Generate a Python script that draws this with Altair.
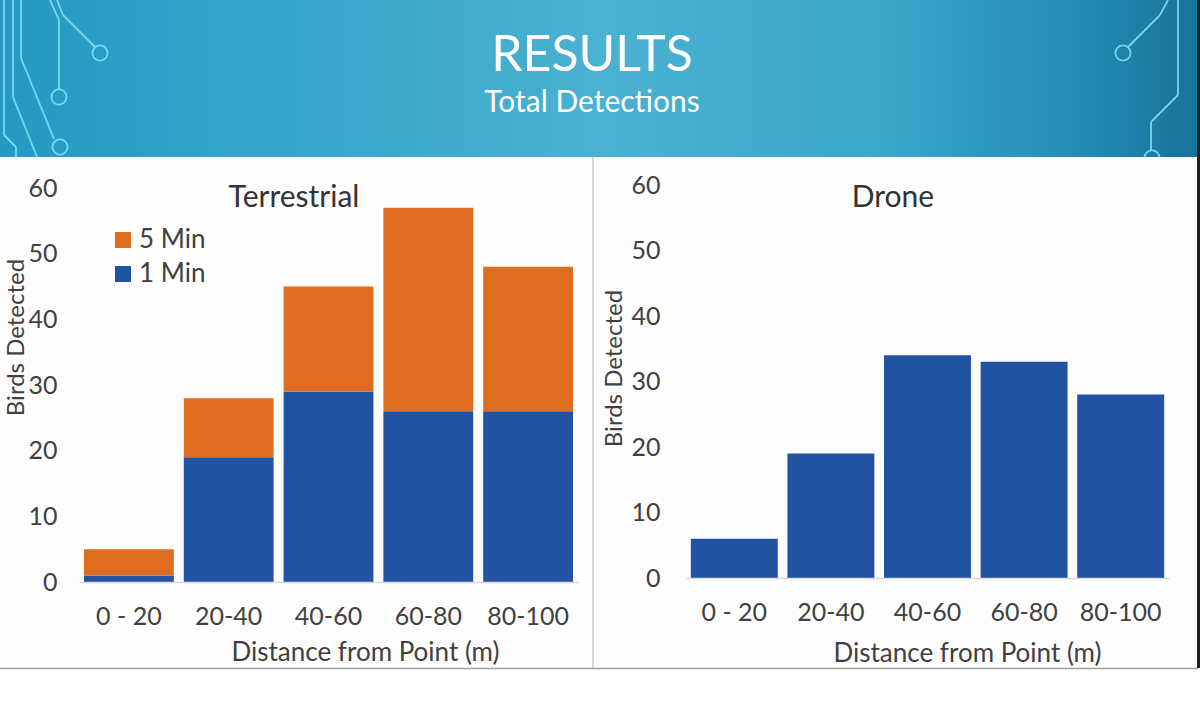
import altair as alt
import pandas as pd

# ---------------- data ----------------
cats = ["0 - 20", "20-40", "40-60", "60-80", "80-100"]
terr_1min = [1, 19, 29, 26, 26]
terr_5min_extra = [4, 9, 16, 31, 22]
drone = [6, 19, 34, 33, 28]
series = ["5 Min", "1 Min"]
y_ticks = [0, 10, 20, 30, 40, 50, 60]

ORANGE = "#E06C20"
BLUE = "#2253A3"
TXT = "#404040"
FONT = "Lato"
DECO = "#80e0f6"

terr = pd.DataFrame({
    "dist": cats * 2,
    "series": ["1 Min"] * 5 + ["5 Min"] * 5,
    "value": terr_1min + terr_5min_extra,
    "ord": [0] * 5 + [1] * 5,
})
dr = pd.DataFrame({"dist": cats, "value": drone})

one = pd.DataFrame({"a": [0]})

# ---------------- banner ----------------
grad = alt.LinearGradient(
    gradient="linear",
    stops=[
        alt.GradientStop(color="#2599c2", offset=0),
        alt.GradientStop(color="#3aa8cd", offset=0.3),
        alt.GradientStop(color="#4ab1d1", offset=0.5),
        alt.GradientStop(color="#3ba8cc", offset=0.72),
        alt.GradientStop(color="#2690b9", offset=0.88),
        alt.GradientStop(color="#17729a", offset=1),
    ],
    x1=0, x2=1, y1=0, y2=0,
)
banner = alt.Chart(one).mark_rect(color=grad).encode(
    x=alt.value(0), x2=alt.value(1200), y=alt.value(0), y2=alt.value(157)
)

segs = pd.DataFrame(
    [
        (4, 0, 4, 135), (4, 135, 16, 147), (16, 147, 16, 157),
        (13, 0, 13, 97), (13, 97, 37, 157),
        (21, 0, 21, 58), (21, 58, 54, 139),
        (50, 0, 59, 20), (59, 20, 59, 89),
        (57, 0, 63, 15), (63, 15, 95, 47),
        (1168, 0, 1160, 15), (1160, 15, 1128, 47),
        (1178, 0, 1178, 95), (1178, 95, 1151, 122), (1151, 122, 1151, 150),
    ],
    columns=["x", "y", "x2", "y2"],
)
deco_lines = alt.Chart(segs).mark_rule(color=DECO, strokeWidth=1.8, opacity=0.9).encode(
    x=alt.X("x:Q", scale=None, axis=None),
    y=alt.Y("y:Q", scale=None, axis=None),
    x2="x2:Q", y2="y2:Q",
)
circ = pd.DataFrame([(60, 147), (59, 97), (100, 53), (1123, 53), (1152, 158)], columns=["x", "y"])
deco_circ = alt.Chart(circ).mark_point(shape="circle", size=230, filled=False,
                                       color=DECO, strokeWidth=1.8, opacity=0.9).encode(
    x=alt.X("x:Q", scale=None, axis=None),
    y=alt.Y("y:Q", scale=None, axis=None),
)

panel_bg = alt.Chart(one).mark_rect(color="#fdfdfd").encode(
    x=alt.value(0), x2=alt.value(1197), y=alt.value(157), y2=alt.value(668)
)
sep = alt.Chart(one).mark_rule(color="#c8c8c8", strokeWidth=1.5).encode(
    x=alt.value(593), y=alt.value(157), y2=alt.value(668)
)
bottom_line = alt.Chart(one).mark_rule(color="#a0a0a0", strokeWidth=1.5).encode(
    x=alt.value(0), x2=alt.value(1198), y=alt.value(668.5)
)
right_edge = alt.Chart(one).mark_rule(color="#202020", strokeWidth=3).encode(
    x=alt.value(1198.5), y=alt.value(0), y2=alt.value(668)
)

# ---------------- texts ----------------
def label(txt, x, y, size, color, weight="normal"):
    return alt.Chart(pd.DataFrame({"t": [txt]})).mark_text(
        font=FONT, fontSize=size, color=color, fontWeight=weight,
        align="center", baseline="middle",
    ).encode(text="t:N", x=alt.value(x), y=alt.value(y))

t_results = label("RESULTS", 592, 56, 50, "#ffffff")
t_sub = label("Total Detections", 592, 103, 30, "#ffffff")
t_terr = label("Terrestrial", 294, 198, 30, "#333333")
t_drone = label("Drone", 893, 198, 30, "#333333")

# ---------------- panels ----------------
def x_axis(offset, title_x, title_y):
    return alt.Axis(
        orient="bottom", offset=offset, title="Distance from Point (m)", zindex=2,
        labelAngle=0, labelFontSize=25, labelColor=TXT, labelFont=FONT,
        labelPadding=22, ticks=False, tickSize=0, grid=False,
        domainColor="#d9d9d9", domainWidth=1.5,
        titleX=title_x, titleY=title_y, titleBaseline="alphabetic",
        titleFontSize=26, titleFontWeight="normal", titleColor=TXT, titleFont=FONT,
    )


def y_axis(offset, title_x, title_y):
    return alt.Axis(
        orient="left", offset=offset, values=y_ticks, title="Birds Detected", zindex=2,
        labelFontSize=25, labelColor=TXT, labelFont=FONT, labelPadding=16,
        ticks=False, tickSize=0, domain=False, grid=False,
        titleX=title_x, titleY=title_y, titleBaseline="middle", titleAngle=270,
        titleFontSize=24, titleFontWeight="normal", titleColor=TXT, titleFont=FONT,
    )


left = alt.Chart(terr).mark_bar().encode(
    x=alt.X("dist:N", sort=cats,
            scale=alt.Scale(range=[79, 578], paddingInner=0.1, paddingOuter=0.05),
            axis=x_axis(-123, 365, 78)),
    y=alt.Y("value:Q", stack="zero",
            scale=alt.Scale(domain=[0, 60], range=[582, 188], nice=False),
            axis=y_axis(-73, -57, 337)),
    color=alt.Color("series:N", scale=alt.Scale(domain=series, range=[ORANGE, BLUE]),
                    legend=alt.Legend(orient="none", legendX=110, legendY=227, title=None,
                                      symbolType="square", symbolSize=256, symbolStrokeWidth=0,
                                      labelFontSize=26, labelColor=TXT, labelFont=FONT,
                                      rowPadding=8, labelOffset=3, padding=0, zindex=2)),
    order=alt.Order("ord:Q"),
)

right = alt.Chart(dr).mark_bar(color=BLUE).encode(
    x=alt.X("dist:N", sort=cats,
            scale=alt.Scale(range=[686, 1169], paddingInner=0.1, paddingOuter=0.05),
            axis=x_axis(-127, 967, 83)),
    y=alt.Y("value:Q",
            scale=alt.Scale(domain=[0, 60], range=[578, 185], nice=False),
            axis=y_axis(-676, -62, 368)),
)

chart = alt.layer(
    banner, deco_lines, deco_circ, panel_bg, sep, bottom_line, right_edge,
    t_results, t_sub, t_terr, t_drone, left, right,
).resolve_scale(
    x="independent", y="independent", color="independent"
).resolve_axis(
    x="independent", y="independent"
).properties(
    width=1200, height=705, autosize=alt.AutoSizeParams(type="none"), padding=0,
    background="#ffffff",
).configure_view(stroke=None)

chart.save("out.html", embed_options={"renderer": "svg", "actions": False})
